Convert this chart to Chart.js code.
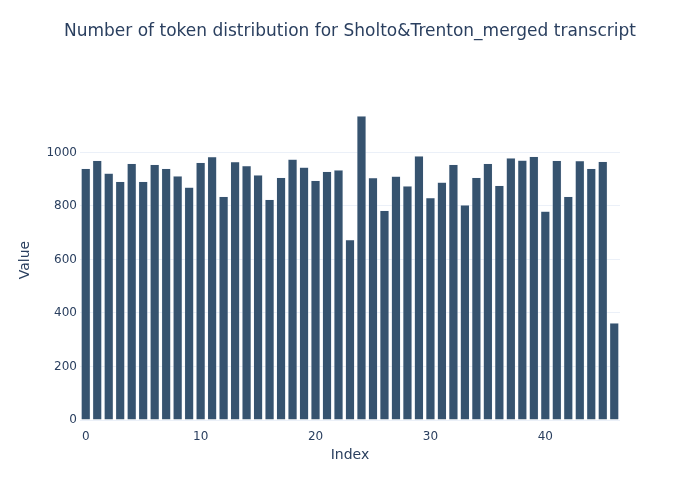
<!DOCTYPE html>
<html>
<head>
<meta charset="utf-8">
<script src="https://cdn.jsdelivr.net/npm/chart.js@4"></script>
<style>
html,body{margin:0;padding:0;background:#fff;}
#wrap{width:700px;height:500px;position:relative;}
</style>
</head>
<body>
<div id="wrap"><canvas id="c" width="700" height="500"></canvas></div>
<script>
const chartTitle = 'Number of token distribution for Sholto&Trenton_merged transcript';
const xTitle = 'Index';
const yTitle = 'Value';
const indices = Array.from({length: 47}, (_, i) => i);
const values = [940, 970, 922, 891, 959, 891, 955, 940, 912, 870,
                962, 984, 835, 965, 950, 916, 824, 906, 975, 945,
                895, 929, 934, 674, 1136, 905, 783, 911, 875, 987,
                831, 889, 955, 804, 906, 959, 876, 979, 971, 985,
                780, 970, 835, 969, 940, 966, 363];
const yTicks = [0, 200, 400, 600, 800, 1000];
const xTicks = [0, 10, 20, 30, 40];

const FONT = '"DejaVu Sans", Verdana, sans-serif';
const TXT = '#2a3f5f';

const textPlugin = {
  id: 'plotTexts',
  afterDraw(chart) {
    const ctx = chart.ctx;
    const a = chart.chartArea;
    ctx.save();
    ctx.fillStyle = TXT;
    ctx.textAlign = 'center';
    ctx.textBaseline = 'middle';
    ctx.font = '17px ' + FONT;
    ctx.fillText(chartTitle, 350, 32);
    ctx.font = '14px ' + FONT;
    ctx.fillText(xTitle, (a.left + a.right) / 2, 455);
    ctx.translate(25, (a.top + a.bottom) / 2);
    ctx.rotate(-Math.PI / 2);
    ctx.fillText(yTitle, 0, 0);
    ctx.restore();
  }
};

new Chart(document.getElementById('c'), {
  type: 'bar',
  data: {
    labels: indices,
    datasets: [{
      data: values,
      backgroundColor: '#36536f',
      borderColor: '#E5ECF6',
      borderWidth: 0.5,
      categoryPercentage: 0.8,
      barPercentage: 1.0
    }]
  },
  plugins: [textPlugin],
  options: {
    responsive: false,
    animation: false,
    layout: { padding: { top: 100, right: 80, left: 0, bottom: 0 } },
    plugins: { legend: { display: false }, tooltip: { enabled: false } },
    scales: {
      x: {
        type: 'category',
        offset: true,
        grid: { display: false },
        border: { display: false },
        afterFit(s) { s.height = 80; },
        ticks: {
          autoSkip: false,
          maxRotation: 0,
          padding: 2,
          color: TXT,
          font: { family: FONT, size: 12 },
          callback(v, i) { return xTicks.includes(i) ? String(i) : null; }
        }
      },
      y: {
        min: 0,
        max: 1196,
        grid: { color: '#EBF0F8', lineWidth: 1, drawTicks: false },
        border: { display: false },
        afterFit(s) { s.width = 80; },
        afterBuildTicks(s) { s.ticks = yTicks.map(v => ({ value: v })); },
        ticks: {
          padding: 3,
          color: TXT,
          font: { family: FONT, size: 12 },
          callback(v) { return String(v); }
        }
      }
    }
  }
});
</script>
</body>
</html>
